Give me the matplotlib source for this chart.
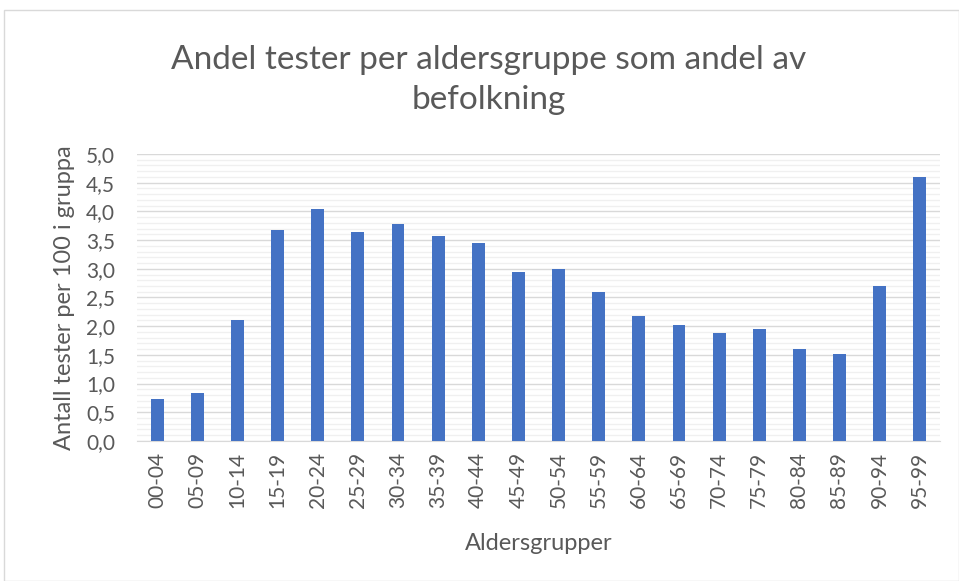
import matplotlib
matplotlib.use("Agg")
import matplotlib.pyplot as plt
from matplotlib.patches import Rectangle
from matplotlib.ticker import MultipleLocator, FuncFormatter

# --- Data ---
age_groups = ["00-04", "05-09", "10-14", "15-19", "20-24", "25-29", "30-34",
              "35-39", "40-44", "45-49", "50-54", "55-59", "60-64", "65-69",
              "70-74", "75-79", "80-84", "85-89", "90-94", "95-99"]
tests_per_100 = [0.74, 0.83, 2.11, 3.68, 4.04, 3.64, 3.78, 3.57, 3.45, 2.94,
                 3.00, 2.60, 2.17, 2.02, 1.88, 1.95, 1.60, 1.52, 2.70, 4.60]

plt.rcParams["font.family"] = ["Lato", "DejaVu Sans"]
text_col = "#595959"

fig = plt.figure(figsize=(9.59, 5.81), dpi=100)
ax = fig.add_axes([0.143, 0.241, 0.837, 0.494])

# chart frame
fig.patches.append(Rectangle((0.004, 0.0), 0.996, 0.983, transform=fig.transFigure,
                             fill=False, edgecolor="#d9d9d9", linewidth=1))

x = range(len(age_groups))
ax.bar(x, tests_per_100, width=0.32, color="#4472c4", zorder=3)

ax.set_xlim(-0.5, len(age_groups) - 0.5)
ax.set_ylim(0, 5.0)
ax.yaxis.set_major_locator(MultipleLocator(0.5))
ax.yaxis.set_minor_locator(MultipleLocator(0.1))
ax.yaxis.set_major_formatter(FuncFormatter(lambda v, p: f"{v:.1f}".replace(".", ",")))
ax.grid(axis="y", which="major", color="#d9d9d9", linewidth=1, zorder=0)
ax.grid(axis="y", which="minor", color="#f0f0f0", linewidth=1, zorder=0)

ax.set_xticks(list(x))
ax.set_xticklabels(age_groups, rotation=90)
ax.tick_params(axis="both", which="both", length=0, colors=text_col, labelsize=15)
ax.tick_params(axis="x", pad=8)
ax.tick_params(axis="y", pad=16)

for side in ["top", "right", "left"]:
    ax.spines[side].set_visible(False)
ax.spines["bottom"].set_color("#d9d9d9")

ax.set_ylabel("Antall tester per 100 i gruppa", fontsize=17, color=text_col, labelpad=8)
ax.set_xlabel("Aldersgrupper", fontsize=17, color=text_col, labelpad=18)

fig.text(0.51, 0.862, "Andel tester per aldersgruppe som andel av\nbefolkning",
         ha="center", va="center", fontsize=24, color=text_col, linespacing=1.4)

fig.savefig("out.png", dpi=100)
